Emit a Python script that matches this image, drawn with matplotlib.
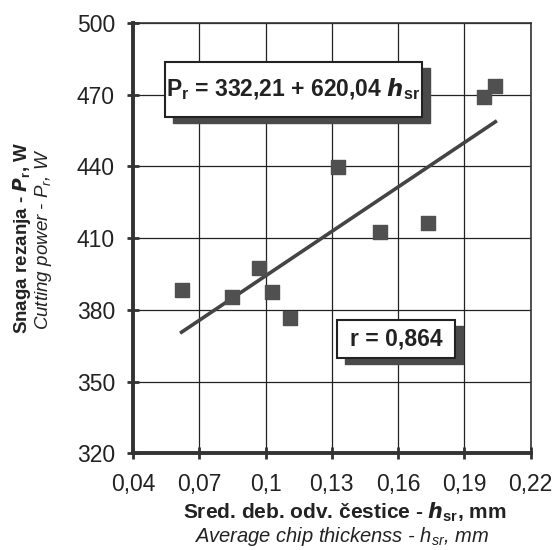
import numpy as np
import matplotlib.pyplot as plt
import matplotlib.font_manager as fm
from matplotlib.patches import Rectangle

# average chip thickness h_sr [mm] vs. cutting power P_r [W]
h_sr = [0.062, 0.085, 0.097, 0.103, 0.111, 0.133, 0.152, 0.1735, 0.199, 0.204]
P_r = [388.2, 385.3, 397.4, 387.4, 376.5, 439.7, 412.5, 416.3, 469.0, 473.6]

# linear fit P_r = a + b*h_sr
a, b = 332.21, 620.04
r_val = 0.864

x_ticks = [0.04, 0.07, 0.1, 0.13, 0.16, 0.19, 0.22]
x_labels = ['0,04', '0,07', '0,1', '0,13', '0,16', '0,19', '0,22']
y_ticks = [320, 350, 380, 410, 440, 470, 500]

names = {f.name for f in fm.fontManager.ttflist}
fam = 'Liberation Sans Narrow' if 'Liberation Sans Narrow' in names else 'Liberation Sans'
plt.rcParams['font.family'] = [fam, 'DejaVu Sans']
plt.rcParams['mathtext.fontset'] = 'custom'
plt.rcParams['mathtext.rm'] = fam
plt.rcParams['mathtext.it'] = fam + ':italic'
plt.rcParams['mathtext.bf'] = fam + ':bold'

fig = plt.figure(figsize=(5.54, 5.5), dpi=100)
ax = fig.add_axes([0.240, 0.176, 0.718, 0.782])

ax.set_xlim(0.04, 0.22)
ax.set_ylim(320, 500)
ax.set_xticks(x_ticks)
ax.set_xticklabels(x_labels)
ax.set_yticks(y_ticks)
ax.grid(True, color='#222222', lw=0.9)
ax.set_axisbelow(True)

for s in ['left', 'bottom']:
    ax.spines[s].set_linewidth(2.8)
    ax.spines[s].set_color('#333333')
for s in ['top', 'right']:
    ax.spines[s].set_linewidth(1.2)
    ax.spines[s].set_color('#333333')
ax.tick_params(direction='inout', length=8, width=2, color='#333333',
               labelsize=16.5, labelcolor='#222222')
ax.tick_params(axis='y', pad=9)
ax.tick_params(axis='x', pad=10)

# regression line over the measured range
xl = np.array([min(h_sr), max(h_sr)])
ax.plot(xl, a + b * xl, color='#444444', lw=2.6, zorder=3)
ax.scatter(h_sr, P_r, marker='s', s=90, color='#505050', zorder=4)

# boxes with drop shadow (figure pixel coords)
def shadow_box(x0, y0, x1, y1, txt, fs):
    W, H = 554, 550
    fig.patches.append(Rectangle(((x0 + 8) / W, 1 - (y1 + 6) / H), (x1 - x0) / W,
                                 (y1 - y0) / H, transform=fig.transFigure,
                                 color='#4a4a4a', zorder=5))
    fig.patches.append(Rectangle((x0 / W, 1 - y1 / H), (x1 - x0) / W, (y1 - y0) / H,
                                 transform=fig.transFigure, facecolor='white',
                                 edgecolor='#222222', lw=1.5, zorder=6))
    fig.text((x0 + x1) / 2 / W, 1 - (y0 + y1) / 2 / H, txt, ha='center', va='center',
             fontsize=fs, fontweight='bold', color='#222222', zorder=7)

shadow_box(165, 62, 422, 117, r'P$_\mathbf{r}$ = 332,21 + 620,04 $\mathbfit{h}_\mathbf{sr}$', 16.5)
shadow_box(337, 320, 455, 358, 'r = 0,864', 16.5)

fig.text(0.040, 0.567, r'Snaga rezanja - $\mathbfit{P}_\mathbf{r}$, W', rotation=90,
         ha='center', va='center', fontsize=13.5, fontweight='bold', color='#222222')
fig.text(0.078, 0.565, r'Cutting power - $P_r$, W', rotation=90, ha='center',
         va='center', fontsize=13.5, style='italic', color='#222222')
fig.text(0.623, 0.068, r'Sred. deb. odv. čestice - $\mathbfit{h}_\mathbf{sr}$, mm',
         ha='center', va='center', fontsize=15, fontweight='bold', color='#222222')
fig.text(0.617, 0.024, r'Average chip thickenss - $h_{sr}$, mm', ha='center',
         va='center', fontsize=14.5, style='italic', color='#222222')

fig.savefig('out.png', dpi=100)
